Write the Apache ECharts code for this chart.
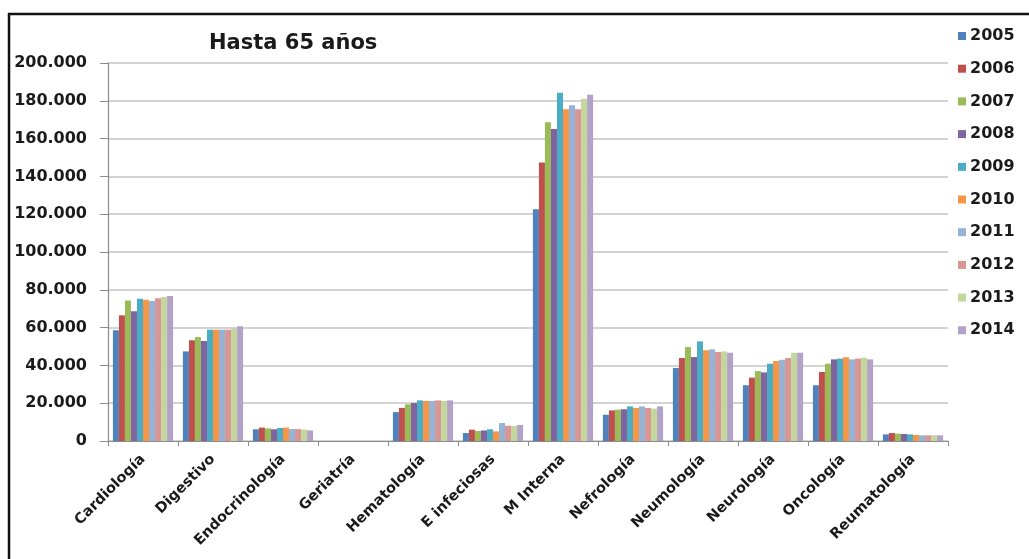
<!DOCTYPE html>
<html>
<head>
<meta charset="utf-8">
<script src="https://cdn.jsdelivr.net/npm/echarts@6/dist/echarts.min.js"></script>
<style>
html,body{margin:0;padding:0;background:#fff;}
#c{width:1029px;height:559px;}
</style>
</head>
<body>
<div id="c"></div>
<script>
const categories = ['Cardiología','Digestivo','Endocrinología','Geriatría','Hematología','E infeciosas','M Interna','Nefrología','Neumología','Neurología','Oncología','Reumatología'];
const years = ['2005','2006','2007','2008','2009','2010','2011','2012','2013','2014'];
const yTicks = [0,20000,40000,60000,80000,100000,120000,140000,160000,180000,200000];
// values per year, order follows categories
const v2005 = [58600,47400,6200,0,15300,4200,122600,13900,38600,29500,29500,3500];
const v2006 = [66500,53300,7100,0,17500,6000,147300,16200,43900,33500,36500,4200];
const v2007 = [74400,55000,6700,0,19400,5300,168600,16600,49700,37000,40900,3900];
const v2008 = [68600,52900,6200,0,20100,5600,165100,16800,44400,36300,43200,3700];
const v2009 = [75300,58900,6900,0,21500,6200,184300,18300,52700,40900,43600,3500];
const v2010 = [74800,58900,7100,0,21200,5100,175500,17500,48000,42300,44300,3200];
const v2011 = [74100,58900,6300,0,21200,9500,177600,18300,48500,43000,43200,3000];
const v2012 = [75500,58900,6300,0,21500,8100,175500,17500,47100,43900,43600,3000];
const v2013 = [76200,59400,6000,0,21200,7900,181100,17100,47400,46700,44100,3000];
const v2014 = [76700,60700,5600,0,21500,8500,183200,18300,46700,46700,43200,3000];
const seriesValues = [v2005,v2006,v2007,v2008,v2009,v2010,v2011,v2012,v2013,v2014];
const colors = ['#4F81BD','#C0504D','#9BBB59','#8064A2','#4BACC6','#F79646','#95B3D7','#D99694','#C3D69B','#B3A2C7'];

const chart = echarts.init(document.getElementById('c'));
const fam = 'DejaVu Sans';
chart.setOption({
  animation:false,
  backgroundColor:'#fff',
  color:colors,
  title:{
    text:'Hasta 65 años',
    left:204, top:28,
    textStyle:{fontFamily:fam,fontWeight:'bold',fontSize:21,color:'#1a1a1a'}
  },
  graphic:[
    {type:'line', silent:true, shape:{x1:9,y1:13,x2:9,y2:559}, style:{stroke:'#111',lineWidth:2.5}},
    {type:'line', silent:true, shape:{x1:8,y1:14,x2:1029,y2:14}, style:{stroke:'#111',lineWidth:2.5}}
  ],
  legend:{
    orient:'vertical', left:953, top:22,
    itemWidth:8, itemHeight:8, itemGap:14.7,
    icon:'rect',
    data:years,
    textStyle:{fontFamily:fam,fontWeight:'bold',fontSize:16,color:'#1a1a1a',lineHeight:18,padding:[0,0,0,-1]}
  },
  grid:{left:108,right:81,top:63,bottom:118,containLabel:false},
  xAxis:{
    type:'category', data:categories,
    axisLine:{show:true,lineStyle:{color:'#8c8c8c',width:1.2}},
    axisTick:{show:true,length:5,lineStyle:{color:'#8c8c8c'}},
    axisLabel:{rotate:45,interval:0,margin:16,fontFamily:fam,fontWeight:'bold',fontSize:14.5,color:'#1a1a1a'},
    splitLine:{show:false}
  },
  yAxis:{
    type:'value', min:0, max:200000, interval:20000,
    axisLine:{show:true,lineStyle:{color:'#8c8c8c',width:1.2}},
    axisTick:{show:true,length:8,lineStyle:{color:'#8c8c8c'}},
    splitLine:{show:true,lineStyle:{color:'#c4c4c4',width:1.6}},
    axisLabel:{margin:21,fontFamily:fam,fontWeight:'bold',fontSize:16,color:'#1a1a1a',
      formatter:function(v){ return yTicks.indexOf(v)>=0 ? (v===0?'0':v.toLocaleString('de-DE')) : ''; }}
  },
  series: years.map(function(y,i){
    return {name:y,type:'bar',data:seriesValues[i],barGap:'0%',barCategoryGap:'14%'};
  })
});
</script>
</body>
</html>
